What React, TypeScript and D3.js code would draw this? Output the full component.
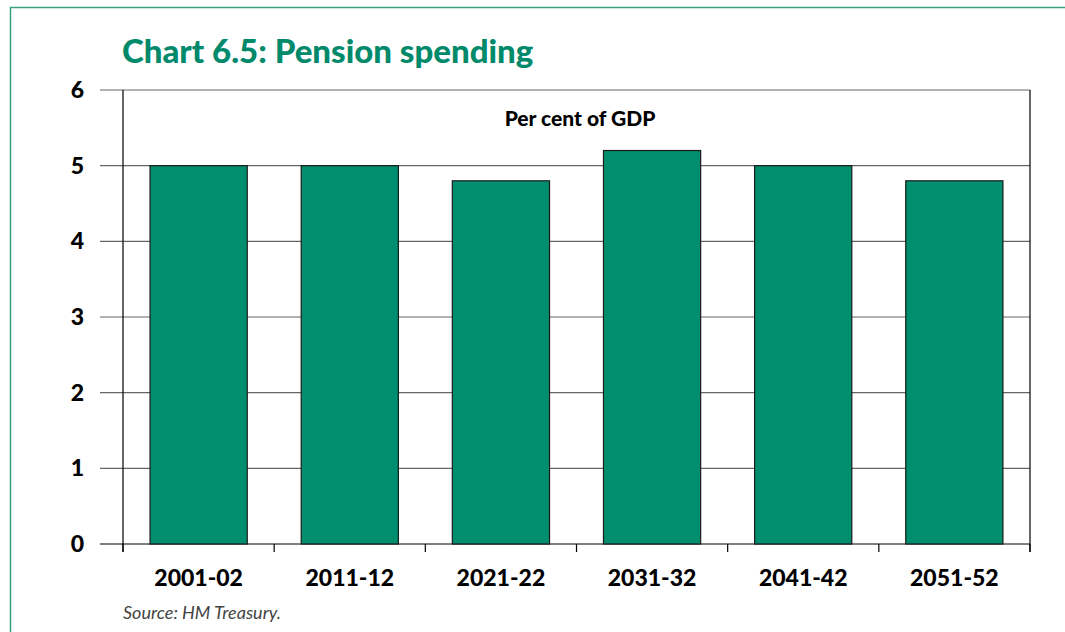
import React from "react";
import * as d3 from "d3";

const categories = ["2001-02", "2011-12", "2021-22", "2031-32", "2041-42", "2051-52"];
const values = [5.0, 5.0, 4.8, 5.2, 5.0, 4.8];
const yTicks = [0, 1, 2, 3, 4, 5, 6];

const W = 1065;
const H = 632;
const margin = { left: 123, top: 90, right: 1030, bottom: 544 };

export default function App() {
  const x = d3
    .scaleBand<string>()
    .domain(categories)
    .range([margin.left, margin.right])
    .paddingInner(0.357)
    .paddingOuter(0.179);
  const y = d3.scaleLinear().domain([0, 6]).range([margin.bottom, margin.top]);
  const step = (margin.right - margin.left) / categories.length;
  const font = "Lato, 'Open Sans', sans-serif";
  const green = "#008f6e";

  return (
    <div style={{ position: "fixed", left: 0, top: 0 }}>
      <svg width={W} height={H} style={{ display: "block", background: "#fff" }}>
        <rect x={10.5} y={7.5} width={W + 10} height={H + 10} fill="none" stroke="#3a9e80" strokeWidth={1.5} />
        <text x={122} y={63} fill="#00896a" fontFamily={font} fontWeight={900} fontSize={33}>
          Chart 6.5: Pension spending
        </text>
        {yTicks.map((t) => (
          <line key={"g" + t} x1={100} x2={margin.right} y1={y(t)} y2={y(t)} stroke={t === 0 ? "#000" : "#666"} strokeWidth={1.2} />
        ))}
        {categories.map((c, i) => (
          <rect
            key={c}
            x={x(c)}
            y={y(values[i])}
            width={x.bandwidth()}
            height={y(0) - y(values[i])}
            fill={green}
            stroke="#1a1a1a"
            strokeWidth={1.2}
          />
        ))}
        <line x1={margin.left} x2={margin.left} y1={margin.top} y2={margin.bottom + 8} stroke="#000" strokeWidth={1.2} />
        <line x1={margin.right} x2={margin.right} y1={margin.top} y2={margin.bottom + 8} stroke="#000" strokeWidth={1.2} />
        {d3.range(categories.length + 1).map((i) => (
          <line
            key={"xt" + i}
            x1={margin.left + i * step}
            x2={margin.left + i * step}
            y1={margin.bottom}
            y2={margin.bottom + 8}
            stroke="#000"
            strokeWidth={1.2}
          />
        ))}
        {yTicks.map((t) => (
          <text key={"yl" + t} x={84} y={y(t) + 8} textAnchor="end" fontFamily={font} fontWeight={900} fontSize={23} fill="#000">
            {t}
          </text>
        ))}
        {categories.map((c) => (
          <text
            key={"xl" + c}
            x={(x(c) as number) + x.bandwidth() / 2}
            y={586}
            textAnchor="middle"
            fontFamily={font}
            fontWeight={900}
            fontSize={23}
            fill="#000"
          >
            {c}
          </text>
        ))}
        <text x={580} y={126} textAnchor="middle" fontFamily={font} fontWeight={900} fontSize={21} fill="#000">
          Per cent of GDP
        </text>
        <text x={123} y={619} fontFamily={font} fontStyle="italic" fontSize={18} fill="#444">
          Source: HM Treasury.
        </text>
      </svg>
    </div>
  );
}
